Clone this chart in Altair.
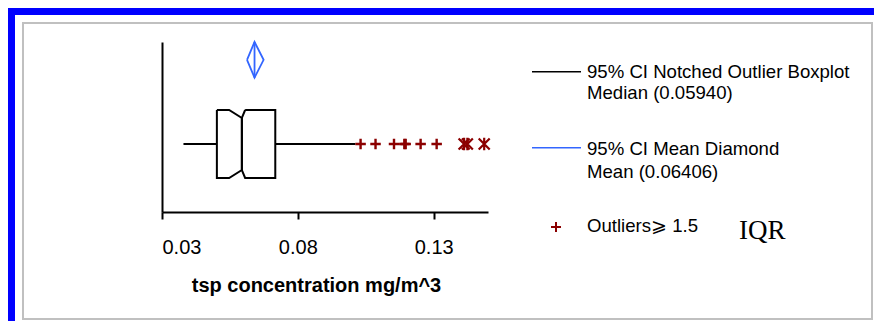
import altair as alt
import pandas as pd

# ---------------- data ----------------
quartiles = [0.0502, 0.0594, 0.0717]          # Q1, median, Q3
whiskers = [0.0379, 0.1012]                   # low, high
notch = [0.0547, 0.0606]                      # 95% CI of median
mild_outliers = [0.1031, 0.1086, 0.1154, 0.1192, 0.1197, 0.1252, 0.1311]
far_outliers = [0.1412, 0.1424, 0.1486]
mean_value = 0.06406
mean_ci = [0.0613, 0.0674]
x_domain = [0.03, 0.15]
x_ticks = [0.03, 0.08, 0.13]
axis_title = "tsp concentration mg/m^3"
legend_texts = [
    "95% CI Notched Outlier Boxplot",
    "Median (0.05940)",
    "95% CI Mean Diamond",
    "Mean (0.06406)",
    "Outliers\u2a7e 1.5",
    "IQR",
]

# ---------------- layout constants (vertical levels, styles) ----------------
BOX_LO, BOX_MID, BOX_HI, NOTCH_D = 2.0, 4.0, 6.0, 0.47
DIA_LO, DIA_MID, DIA_HI = 7.9, 8.95, 10.0
DARKRED = "#8b0000"
BLUE = "#3366ff"
SANS = "Liberation Sans"

q1, med, q3 = quartiles
nlo, nhi = notch
wlo, whi = whiskers
clo, chi = mean_ci

box_parts = {
    "left": [(q1, BOX_HI), (nlo, BOX_HI), (med, BOX_HI - NOTCH_D), (med, BOX_LO + NOTCH_D),
             (nlo, BOX_LO), (q1, BOX_LO), (q1, BOX_HI)],
    "right": [(nhi, BOX_HI), (q3, BOX_HI), (q3, BOX_LO), (nhi, BOX_LO),
              (med, BOX_LO + NOTCH_D), (med, BOX_HI - NOTCH_D), (nhi, BOX_HI)],
    "wlo": [(wlo, BOX_MID), (q1, BOX_MID)],
    "whi": [(q3, BOX_MID), (whi, BOX_MID)],
}
dia_parts = {
    "diamond": [(clo, DIA_MID), (mean_value, DIA_HI), (chi, DIA_MID), (mean_value, DIA_LO), (clo, DIA_MID)],
    "mid": [(mean_value, DIA_HI), (mean_value, DIA_LO)],
}


def to_df(parts):
    rows = []
    for name, pts in parts.items():
        for i, (x, y) in enumerate(pts):
            rows.append({"part": name, "ord": i, "x": x, "y": y})
    return pd.DataFrame(rows)


box_df = to_df(box_parts)
dia_df = to_df(dia_parts)
mild_df = pd.DataFrame({"x": mild_outliers, "y": BOX_MID})
far_df = pd.DataFrame({"x": far_outliers, "y": BOX_MID})

xscale = alt.Scale(domain=x_domain, nice=False, zero=False)
yscale = alt.Scale(domain=[0, 10], nice=False, zero=False)

xaxis = alt.Axis(
    values=x_ticks, format=".2f", grid=False, domainColor="black", domainWidth=2,
    tickColor="black", tickWidth=2, tickSize=7, labelFont=SANS, labelFontSize=20,
    labelColor="black", labelBaseline="alphabetic", labelPadding=34,
    title=axis_title, titleFont=SANS, titleFontSize=20, titleFontWeight="bold",
    titleColor="black", titleX=154, titleY=79, titleBaseline="alphabetic", zindex=1,
)
yaxis = alt.Axis(
    grid=False, ticks=False, labels=False, title=None, domainColor="black",
    domainWidth=2, zindex=1,
)

one = pd.DataFrame({"k": [0]})

blue_frame = alt.Chart(one).mark_rect(fillOpacity=0, stroke="#0000ff", strokeWidth=8).encode(
    x=alt.value(-151), x2=alt.value(740), y=alt.value(-31), y2=alt.value(300)
)
gray_frame = alt.Chart(one).mark_rect(fillOpacity=0, stroke="#c0c0c0", strokeWidth=2).encode(
    x=alt.value(-139), x2=alt.value(710), y=alt.value(-19), y2=alt.value(277)
)

box = alt.Chart(box_df).mark_line(color="black", strokeWidth=2).encode(
    x=alt.X("x:Q", scale=xscale, axis=xaxis),
    y=alt.Y("y:Q", scale=yscale, axis=yaxis),
    detail="part:N",
    order="ord:Q",
)
diamond = alt.Chart(dia_df).mark_line(color=BLUE, strokeWidth=1.8).encode(
    x=alt.X("x:Q", scale=xscale), y=alt.Y("y:Q", scale=yscale), detail="part:N", order="ord:Q"
)
PLUS = "M-1,0L1,0M0,-1L0,1"
STAR = "M-1,-1L1,1M-1,1L1,-1M0,-1.15L0,1.15"
mild = alt.Chart(mild_df).mark_point(shape=PLUS, filled=False, color=DARKRED, strokeWidth=2.4, size=110, opacity=1).encode(
    x=alt.X("x:Q", scale=xscale), y=alt.Y("y:Q", scale=yscale)
)
far = alt.Chart(far_df).mark_point(shape=STAR, filled=False, color=DARKRED, strokeWidth=2.2, size=121, opacity=1).encode(
    x=alt.X("x:Q", scale=xscale), y=alt.Y("y:Q", scale=yscale)
)


def legend_rule(y, color):
    return alt.Chart(one).mark_rule(color=color, strokeWidth=1.5).encode(
        x=alt.value(370), x2=alt.value(419), y=alt.value(y)
    )


def legend_text(label, x, y, font=SANS, size=18.6):
    return alt.Chart(pd.DataFrame({"label": [label]})).mark_text(
        align="left", baseline="alphabetic", font=font, fontSize=size, color="black"
    ).encode(text="label:N", x=alt.value(x), y=alt.value(y))


legend_plus = alt.Chart(one).mark_point(shape=PLUS, filled=False, color=DARKRED, strokeWidth=2, size=100, opacity=1).encode(
    x=alt.value(394), y=alt.value(185)
)

layers = [
    blue_frame, gray_frame, box, diamond, mild, far,
    legend_rule(29.7, "black"), legend_rule(105.7, BLUE), legend_plus,
    legend_text(legend_texts[0], 425, 36.3),
    legend_text(legend_texts[1], 425, 57.3),
    legend_text(legend_texts[2], 425, 113),
    legend_text(legend_texts[3], 425, 136.3),
    legend_text(legend_texts[4], 425, 190.3),
    legend_text(legend_texts[5], 577, 197, font="Liberation Serif", size=27),
]

# whole chart: 866 x 313 so that the page does not overflow the 882 x 333 window
chart = alt.layer(*layers).properties(
    width=326, height=170,
    padding={"left": 154, "top": 34, "right": 386, "bottom": 109},
    autosize=alt.AutoSizeParams(type="none"),
    background="white",
).configure_view(stroke=None)

chart.save("out.html", embed_options={"renderer": "svg", "actions": False})
